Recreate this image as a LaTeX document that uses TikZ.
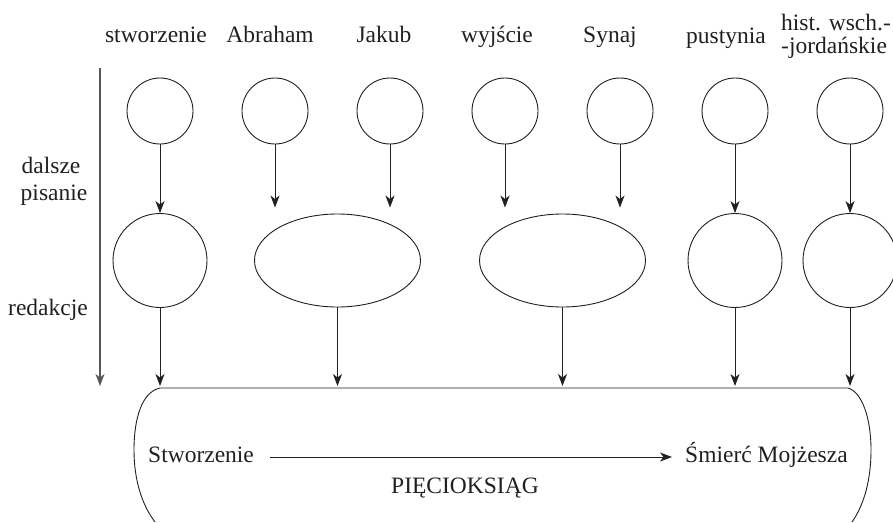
\documentclass[tikz,border=0pt]{standalone}
\usepackage{fontspec}
\setmainfont{Liberation Serif}
\usetikzlibrary{shapes.geometric,arrows.meta}
\definecolor{ink}{HTML}{231F20}
\begin{document}
\begin{tikzpicture}[x=1pt,y=-1pt,
  every node/.style={font=\fontsize{23.5}{23.5}\selectfont, text=ink, inner sep=0pt},
  smallc/.style={draw=ink, circle, minimum size=66pt, line width=0.9pt},
  midc/.style={draw=ink, circle, minimum size=94pt, line width=0.9pt},
  mide/.style={draw=ink, ellipse, minimum width=166pt, minimum height=93pt, line width=0.9pt},
  arr/.style={draw=ink, line width=0.9pt, -{Stealth[length=12pt,width=9pt,inset=3.5pt]}},
  lbl/.style={anchor=base}
]
\useasboundingbox (0,0) rectangle (893,522);

% top labels
\node[lbl] (l1) at (156,42) {stworzenie};
\node[lbl] (l2) at (270,42) {Abraham};
\node[lbl] (l3) at (384,42) {Jakub};
\node[lbl] (l4) at (497,42) {wyjście};
\node[lbl] (l5) at (610,42) {Synaj};
\node[lbl] (l6) at (726,43) {pustynia};
\node[anchor=base west] (l7a) at (781,30) {hist. wsch.-};
\node[anchor=base west] (l7b) at (781,53) {-jordańskie};

% side labels
\node[lbl] (d1) at (51,173) {dalsze};
\node[lbl] (d2) at (54,200) {pisanie};
\node[lbl] (r1) at (48,315) {redakcje};

% small circles
\node[smallc] (s1) at (160,111) {};
\node[smallc] (s2) at (275,111) {};
\node[smallc] (s3) at (390,111) {};
\node[smallc] (s4) at (505,111) {};
\node[smallc] (s5) at (620,111) {};
\node[smallc] (s6) at (735,111) {};
\node[smallc] (s7) at (850,111) {};

% middle shapes
\node[midc] (m1) at (160,260.5) {};
\node[mide] (m2) at (337.5,260.5) {};
\node[mide] (m3) at (562.5,260.5) {};
\node[midc] (m4) at (735,260.5) {};
\node[midc] (m5) at (850,260.5) {};

% bottom shape
\coordinate (tl) at (160,388);
\coordinate (tr) at (848,388);
\draw[ink, line width=0.9pt] (155,522) .. controls (142,505) and (134,480) .. (134,450)
  .. controls (134,418) and (142,392) .. (tl) -- (tr)
  .. controls (862,392) and (871,418) .. (871,450)
  .. controls (871,480) and (864,505) .. (852,522);

% axis
\coordinate (ax1) at (100,68);
\coordinate (ax2) at (100,386);
\draw[arr, draw=ink!75, line width=1.1pt] (ax1) -- (ax2);

% arrows top -> middle
\draw[arr] (s1.south) -- (m1.north);
\draw[arr, shorten >=6pt] (s2.south) -- (s2.south |- m2.north);
\draw[arr, shorten >=6pt] (s3.south) -- (s3.south |- m2.north);
\draw[arr, shorten >=6pt] (s4.south) -- (s4.south |- m3.north);
\draw[arr, shorten >=6pt] (s5.south) -- (s5.south |- m3.north);
\draw[arr] (s6.south) -- (m4.north);
\draw[arr] (s7.south) -- (m5.north);

% arrows middle -> bottom
\coordinate (b) at (0,386);
\draw[arr] (m1.south) -- (m1.south |- b);
\draw[arr] (m2.south) -- (m2.south |- b);
\draw[arr] (m3.south) -- (m3.south |- b);
\draw[arr] (m4.south) -- (m4.south |- b);
\draw[arr] (m5.south) -- (m5.south |- b);

% inside bottom shape
\node[anchor=base west] (stw) at (148,462) {Stworzenie};
\node[anchor=base west] (smi) at (685,462) {Śmierć Mojżesza};
\node[lbl] (pk) at (465,493) {PIĘCIOKSIĄG};
\coordinate (h1) at (270,457);
\coordinate (h2) at (672,457);
\draw[arr] (h1) -- (h2);
\end{tikzpicture}
\end{document}
